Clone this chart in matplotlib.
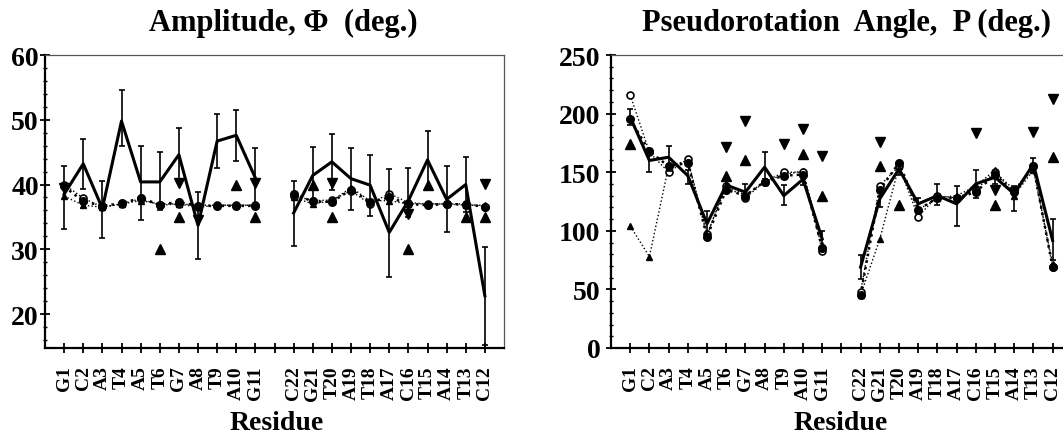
import numpy as np
import matplotlib
matplotlib.use("Agg")
import matplotlib.pyplot as plt
from matplotlib.ticker import FixedLocator, MultipleLocator

plt.rcParams['font.family'] = ['Liberation Serif', 'DejaVu Serif']
plt.rcParams['font.weight'] = 'bold'

# residues, strand 1 then strand 2 (gap at position 12)
residues = ['G1', 'C2', 'A3', 'T4', 'A5', 'T6', 'G7', 'A8', 'T9', 'A10', 'G11',
            'C22', 'G21', 'T20', 'A19', 'T18', 'A17', 'C16', 'T15', 'A14', 'T13', 'C12']
positions = list(range(1, 12)) + list(range(13, 24))
nan = np.nan

# ---- amplitude (deg.) ----
amp_mean = [38.5, 43.2, 36.3, 49.8, 40.4, 40.4, 44.6, 33.7, 46.7, 47.6, 41.0,
            35.6, 41.4, 43.5, 40.9, 39.9, 32.6, 37.5, 43.8, 37.7, 40.0, 22.8]
amp_hi = [42.9, 47.1, 40.6, 54.6, 46.0, 45.0, 48.7, 38.8, 50.9, 51.5, 45.6,
          40.5, 45.8, 47.8, 45.7, 44.6, 42.4, 42.5, 48.3, 42.8, 44.3, 30.3]
amp_lo = [33.2, 39.3, 31.8, 46.0, 34.5, 36.0, 40.5, 28.5, 42.5, 43.7, 36.5,
          30.5, 37.0, 39.2, 36.0, 35.1, 25.7, 35.0, 39.5, 32.6, 35.7, 15.2]
amp_circ = [39.7, 37.4, 36.7, 37.1, 37.9, 36.9, 37.3, 36.7, 36.7, 36.7, 36.7,
            38.5, 37.4, 37.3, 39.2, 37.3, 38.0, 37.0, 36.8, 37.0, 36.9, 36.6]
amp_open = [40.0, 37.9, 36.5, 37.0, 37.8, 36.8, 37.0, 36.5, 36.8, 36.8, 36.8,
            38.3, 37.5, 37.6, 39.0, 37.0, 38.6, 37.2, 37.0, 37.0, 37.0, 36.6]
amp_tri = [38.2, 36.8, 36.5, 37.0, 37.5, 37.0, 37.0, 36.8, 36.8, 36.8, 36.8,
           38.0, 37.0, 37.5, 39.5, 37.5, 37.5, 37.0, 37.0, 37.0, 36.8, 36.8]
amp_up = [nan, nan, nan, nan, nan, 30.0, 35.0, nan, nan, 40.0, 35.0,
          nan, 40.0, 35.0, nan, nan, nan, 30.1, 40.0, nan, 35.0, 35.0]
amp_down = [39.5, nan, nan, nan, nan, nan, 40.2, 34.5, nan, nan, 40.3,
            nan, nan, 40.2, nan, nan, nan, 35.4, nan, nan, nan, 40.1]

# ---- pseudorotation angle P (deg.) ----
pr_mean = [197, 160, 162.8, 147, 106, 139, 133, 154.3, 130, 144, 93,
           69, 127.3, 152.8, 123, 130, 123, 140, 145.7, 131.5, 157, 91.8]
pr_hi = [204, 168.5, 172.7, 152, 117.3, 143, 140, 167, 139, 149, 100,
         79.5, 135, 158, 128, 140, 138.6, 152, 151, 138.6, 162, 110]
pr_lo = [190, 150, 151, 140, 96, 133, 126, 144, 122, 139, 85,
         59, 120, 148, 117, 121.6, 104.5, 128, 140, 117, 150, 75]
pr_circ = [195, 168, 155, 158, 95, 135, 130, 142, 147, 148, 85,
           45, 135, 158, 118, 128, 128, 133, 148, 133, 155, 69]
pr_open = [216, 167, 150, 161, 97, 138, 128, 142, 150, 150, 83,
           48, 138.6, 155, 112, 130, 128, 135, 150, 135, 155, 69]
pr_tri = [104, 78, 155, 160, 96, 140, 130, 142, 148, 151, 88,
          45, 93, 155, 118, 128, 130, 138, 152, 130, 152, 72]
pr_up = [174, nan, nan, nan, nan, 147, 160, nan, nan, 165.6, 130,
         nan, 155, 122, nan, nan, nan, nan, 122, nan, nan, 162.8]
pr_down = [nan, nan, nan, nan, nan, 171.3, 194, nan, 174, 187, 164.2,
           nan, 175.6, nan, nan, nan, nan, 183.2, 134.4, nan, 184.7, 212.5]

strands = [slice(0, 11), slice(11, 22)]
W, H = 1063, 435


def draw_panel(ax, mean, lo, hi, circ, opn, tri, up, down):
    x = np.array(positions)
    mean = np.array(mean)
    for s in strands:
        ax.plot(x[s], np.array(tri)[s], ':', color='k', lw=1.0,
                marker='^', ms=4, mfc='k', mec='k')
        ax.plot(x[s], np.array(opn)[s], ':', color='k', lw=1.0,
                marker='o', ms=5, mfc='white', mec='k', mew=1.2)
        ax.plot(x[s], np.array(circ)[s], ':', color='k', lw=1.8,
                marker='o', ms=5.5, mfc='k', mec='k')
        ax.plot(x[s], mean[s], '-', color='k', lw=2.2)
    yerr = [mean - np.array(lo), np.array(hi) - mean]
    ax.errorbar(x, mean, yerr=yerr, fmt='none', ecolor='k', elinewidth=1.2,
                capsize=2.5, capthick=1.2)
    ax.plot(x, up, linestyle='none', marker='^', ms=6.5, color='k')
    ax.plot(x, down, linestyle='none', marker='v', ms=6.5, color='k')

    ax.set_xlim(0, 24)
    ax.xaxis.set_major_locator(FixedLocator(range(1, 24)))
    ax.set_xticklabels(residues[:11] + [''] + residues[11:], rotation=90,
                       fontsize=14, fontweight='bold')
    ax.tick_params(axis='x', direction='inout', length=7, width=1.3, pad=9)
    ax.tick_params(axis='y', which='major', direction='inout', length=7,
                   width=1.3, labelsize=20)
    ax.tick_params(axis='y', which='minor', direction='inout', length=3, width=1)
    for side in ('left', 'bottom'):
        ax.spines[side].set_linewidth(1.6)
    for side in ('top', 'right'):
        ax.spines[side].set_linewidth(0.9)
        ax.spines[side].set_color('#555555')
    for lab in ax.get_yticklabels():
        lab.set_fontweight('bold')


fig = plt.figure(figsize=(W / 100, H / 100), dpi=100)
bot = (H - 349) / H
hgt = (349 - 56) / H

ax1 = fig.add_axes([45 / W, bot, (504 - 45) / W, hgt])
draw_panel(ax1, amp_mean, amp_lo, amp_hi, amp_circ, amp_open, amp_tri, amp_up, amp_down)
ax1.set_ylim(14.75, 60)
ax1.set_yticks([20, 30, 40, 50, 60])
ax1.yaxis.set_minor_locator(MultipleLocator(2))
ax1.tick_params(axis='y', pad=1)

ax2 = fig.add_axes([611 / W, bot, (24 * 19.2) / W, hgt])
draw_panel(ax2, pr_mean, pr_lo, pr_hi, pr_circ, pr_open, pr_tri, pr_up, pr_down)
ax2.set_ylim(0, 250)
ax2.set_yticks([0, 50, 100, 150, 200, 250])
ax2.yaxis.set_minor_locator(MultipleLocator(10))
ax2.tick_params(axis='y', pad=4)

fig.text(283 / W, 1 - 31 / H, 'Amplitude, \u03a6  (deg.)', ha='center', va='baseline',
         fontsize=22, fontweight='bold')
fig.text(846 / W, 1 - 31 / H, 'Pseudorotation  Angle,  P (deg.)', ha='center',
         va='baseline', fontsize=22, fontweight='bold')
fig.text(277 / W, 5 / H, 'Residue', ha='center', va='baseline', fontsize=20,
         fontweight='bold')
fig.text(841 / W, 5 / H, 'Residue', ha='center', va='baseline', fontsize=20,
         fontweight='bold')

fig.savefig('out.png', dpi=100)
